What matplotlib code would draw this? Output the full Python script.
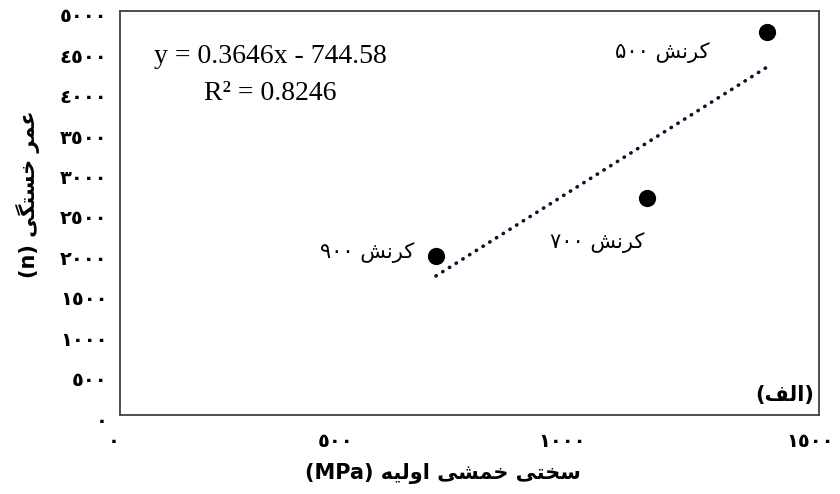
import numpy as np
import matplotlib
matplotlib.use('Agg')
import matplotlib.pyplot as plt
from matplotlib.transforms import ScaledTranslation

# values
stiffness = [678, 1131, 1388]          # initial bending stiffness (MPa)
fatigue_life = [1968, 2686, 4740]      # fatigue life (n)
strain_labels = ['۹۰۰', '۷۰۰', '۵۰۰']

x_ticks = [0, 500, 1000, 1500]
x_tick_labels = ['٠', '٥٠٠', '١٠٠٠', '١٥٠٠']
y_ticks = [0, 500, 1000, 1500, 2000, 2500, 3000, 3500, 4000, 4500, 5000]
y_tick_labels = ['٠', '٥٠٠', '١٠٠٠', '١٥٠٠', '٢٠٠٠', '٢٥٠٠',
                 '٣٠٠٠', '٣٥٠٠', '٤٠٠٠', '٤٥٠٠', '٥٠٠٠']

eq_text = 'y = 0.3646x - 744.58'
r2_text = 'R² = 0.8246'

# matplotlib has no arabic shaping, so pick presentation forms by hand
# (isolated, final, initial, medial)
FORMS = {
    'ا': ('\uFE8D', '\uFE8E'),
    'ت': ('\uFE95', '\uFE96', '\uFE97', '\uFE98'),
    'خ': ('\uFEA5', '\uFEA6', '\uFEA7', '\uFEA8'),
    'ر': ('\uFEAD', '\uFEAE'),
    'س': ('\uFEB1', '\uFEB2', '\uFEB3', '\uFEB4'),
    'ش': ('\uFEB5', '\uFEB6', '\uFEB7', '\uFEB8'),
    'ع': ('\uFEC9', '\uFECA', '\uFECB', '\uFECC'),
    'ف': ('\uFED1', '\uFED2', '\uFED3', '\uFED4'),
    'ل': ('\uFEDD', '\uFEDE', '\uFEDF', '\uFEE0'),
    'م': ('\uFEE1', '\uFEE2', '\uFEE3', '\uFEE4'),
    'ن': ('\uFEE5', '\uFEE6', '\uFEE7', '\uFEE8'),
    'ه': ('\uFEE9', '\uFEEA', '\uFEEB', '\uFEEC'),
    'و': ('\uFEED', '\uFEEE'),
    'ک': ('\uFB8E', '\uFB8F', '\uFB90', '\uFB91'),
    'گ': ('\uFB92', '\uFB93', '\uFB94', '\uFB95'),
    'ی': ('\uFBFC', '\uFBFD', '\uFBFE', '\uFBFF'),
}


def rtl(text):
    out = []
    for i, ch in enumerate(text):
        if ch not in FORMS:
            out.append(ch)
            continue
        prev = text[i - 1] if i > 0 else ''
        nxt = text[i + 1] if i + 1 < len(text) else ''
        f = FORMS[ch]
        join_prev = prev in FORMS and len(FORMS[prev]) == 4
        join_next = nxt in FORMS and len(f) == 4
        if join_prev and join_next:
            out.append(f[3])
        elif join_prev:
            out.append(f[1])
        elif join_next:
            out.append(f[2])
        else:
            out.append(f[0])
    return ''.join(out[::-1])


fig = plt.figure(figsize=(8.4, 4.94), dpi=100)
ax = fig.add_axes([120 / 840, 1 - 415 / 494, 699 / 840, 404 / 494])

# points
ax.scatter(stiffness, fatigue_life, s=130, color='black', zorder=3)

# linear trendline over the data range
coef = np.polyfit(stiffness, fatigue_life, 1)
xs = np.array([min(stiffness), max(stiffness)])
ax.plot(xs, np.polyval(coef, xs), color='#10102a', lw=2.6,
        linestyle=(0, (0.1, 2.1)), dash_capstyle='round')

# point labels
offsets = [(-22, 3), (-50, -45), (-105, -21)]
has = ['right', 'center', 'center']
for xv, yv, s, off, ha in zip(stiffness, fatigue_life, strain_labels, offsets, has):
    ax.annotate(s + ' ' + rtl('کرنش'), (xv, yv), xytext=off,
                textcoords='offset pixels', ha=ha, va='center',
                fontsize=15, family='DejaVu Sans')

# equation of the trendline
ax.text(0.215, 0.888, eq_text, transform=ax.transAxes, ha='center',
        va='center', fontsize=20, family='Liberation Serif')
ax.text(0.215, 0.795, r2_text, transform=ax.transAxes, ha='center',
        va='center', fontsize=20, family='Liberation Serif')

# panel tag
ax.text(0.993, 0.05, '(' + rtl('الف') + ')', transform=ax.transAxes,
        ha='right', va='center', fontsize=15, fontweight='bold',
        family='DejaVu Sans')

ax.set_xlim(0, 1500)
ax.set_ylim(0, 5000)
ax.set_xticks(x_ticks, x_tick_labels)
ax.set_yticks(y_ticks, y_tick_labels)
ax.tick_params(length=0, labelsize=14)
ax.tick_params(axis='x', pad=12)
ax.tick_params(axis='y', pad=9)

# tick labels sit a little left / lower than the ticks in the original
shift_down = ScaledTranslation(0, -4 / 100, fig.dpi_scale_trans)
for lbl in ax.get_yticklabels():
    lbl.set_fontweight('bold')
    lbl.set_transform(lbl.get_transform() + shift_down)
for lbl in ax.get_xticklabels():
    lbl.set_fontweight('bold')
    lbl.set_horizontalalignment('right')
last = ax.get_xticklabels()[-1]
last.set_transform(last.get_transform() +
                   ScaledTranslation(15 / 100, 0, fig.dpi_scale_trans))

for sp in ax.spines.values():
    sp.set_color('#404040')
    sp.set_linewidth(1.3)

# axis titles
fig.text(443 / 840, 1 - 473 / 494, '(MPa) ' + rtl('سختی خمشی اولیه'),
         ha='center', va='center', fontsize=15, fontweight='bold',
         family='DejaVu Sans')
fig.text(28 / 840, 1 - 194 / 494, '(n) ' + rtl('عمر خستگی'),
         ha='center', va='center', rotation=90, fontsize=15,
         fontweight='bold', family='DejaVu Sans')

fig.savefig('out.png', dpi=100)
